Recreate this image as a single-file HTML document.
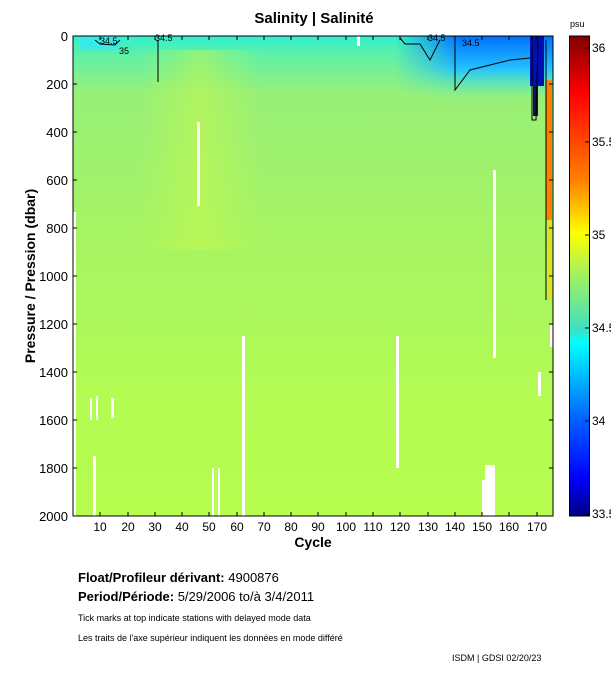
<!DOCTYPE html>
<html><head><meta charset="utf-8"><style>
body{margin:0;background:#fff;width:611px;height:675px;overflow:hidden;font-family:"Liberation Sans",Arial,sans-serif}
</style></head><body>
<svg width="611" height="675" xmlns="http://www.w3.org/2000/svg" font-family="Liberation Sans, Arial, sans-serif">
<defs>
<linearGradient id="bg" x1="0" y1="36" x2="0" y2="516" gradientUnits="userSpaceOnUse">
<stop offset="0" stop-color="#30f0d0"/>
<stop offset="0.04" stop-color="#60f0a8"/>
<stop offset="0.12" stop-color="#98f078"/>
<stop offset="0.4" stop-color="#a6f464"/>
<stop offset="0.6" stop-color="#acf75a"/>
<stop offset="0.75" stop-color="#b4fc52"/>
<stop offset="1" stop-color="#b6fd50"/>
</linearGradient>
<linearGradient id="blu" x1="0" y1="36" x2="0" y2="100" gradientUnits="userSpaceOnUse">
<stop offset="0" stop-color="#0070ff"/>
<stop offset="0.5" stop-color="#20c0ff"/>
<stop offset="1" stop-color="#60f0c0" stop-opacity="0"/>
</linearGradient>
<linearGradient id="bluh" x1="395" y1="0" x2="553" y2="0" gradientUnits="userSpaceOnUse">
<stop offset="0" stop-color="#fff" stop-opacity="0"/>
<stop offset="0.4" stop-color="#fff" stop-opacity="1"/>
<stop offset="1" stop-color="#fff" stop-opacity="1"/>
</linearGradient>
<mask id="m"><rect x="395" y="36" width="158" height="70" fill="url(#bluh)"/></mask>
<linearGradient id="yl" x1="0" y1="0" x2="1" y2="0">
<stop offset="0" stop-color="#c8f848" stop-opacity="0"/>
<stop offset="0.5" stop-color="#c8f848" stop-opacity="0.5"/>
<stop offset="1" stop-color="#c8f848" stop-opacity="0"/>
</linearGradient>
<linearGradient id="cb" x1="0" y1="36" x2="0" y2="516" gradientUnits="userSpaceOnUse">
<stop offset="0" stop-color="#800000"/>
<stop offset="0.12" stop-color="#ff0000"/>
<stop offset="0.3" stop-color="#ff8000"/>
<stop offset="0.41" stop-color="#ffff00"/>
<stop offset="0.5" stop-color="#a0f060"/>
<stop offset="0.61" stop-color="#40e0c0"/>
<stop offset="0.64" stop-color="#00ffff"/>
<stop offset="0.8" stop-color="#0060ff"/>
<stop offset="0.92" stop-color="#0000ff"/>
<stop offset="1" stop-color="#000080"/>
</linearGradient>
</defs>
<text x="314" y="23" font-size="15" font-weight="bold" text-anchor="middle">Salinity | Salinité</text>
<rect x="73" y="36" width="480" height="480" fill="url(#bg)"/>
<rect x="140" y="50" width="120" height="200" fill="url(#yl)"/>
<rect x="395" y="36" width="158" height="70" fill="url(#blu)" mask="url(#m)"/>
<rect x="80" y="36" width="40" height="14" fill="#30e8ff" opacity="0.6"/>
<rect x="530" y="36" width="14" height="50" fill="#0010b0"/>
<rect x="533" y="86" width="5" height="30" fill="#101060"/>
<rect x="546" y="80" width="6" height="140" fill="#ff8000"/>
<rect x="548" y="220" width="4" height="80" fill="#e0e020"/>
<g fill="#fff">
<rect x="357" y="36" width="3" height="10"/>
<rect x="197" y="122" width="3" height="84"/>
<rect x="493" y="170" width="3" height="188"/>
<rect x="242" y="336" width="3" height="180"/>
<rect x="396" y="336" width="3" height="132"/>
<rect x="538" y="372" width="3" height="24"/>
<rect x="550" y="325" width="3" height="22"/>
<rect x="73" y="212" width="3" height="304"/>
<rect x="90" y="398" width="2" height="22"/>
<rect x="96" y="396" width="2" height="24"/>
<rect x="111" y="398" width="3" height="20"/>
<rect x="93" y="456" width="3" height="60"/>
<rect x="212" y="468" width="2" height="48"/>
<rect x="218" y="468" width="2" height="48"/>
<rect x="485" y="465" width="10" height="51"/>
<rect x="482" y="480" width="4" height="36"/>
</g>
<g fill="none" stroke="#000" stroke-width="1">
<path d="M95 40 L100 44 L115 45 L120 40"/>
<path d="M400 38 L405 44 L420 44 L430 60 L440 40"/>
<path d="M455 40 L455 90 L470 70 L490 65 L510 60 L530 58"/>
<path d="M532 36 L532 120 L536 120 L538 40"/>
<path d="M546 40 L546 300"/>
<path d="M158 40 L158 82"/>
</g>
<g font-size="9"><text x="100" y="44">34.5</text><text x="119" y="54">35</text><text x="155" y="41">34.5</text><text x="428" y="41">34.5</text><text x="462" y="46">34.5</text></g>
<rect x="73" y="36" width="480" height="480" fill="none" stroke="#000"/>
<g stroke="#000">
<path d="M100 516v-4M128 516v-4M155 516v-4M182 516v-4M209 516v-4M237 516v-4M264 516v-4M291 516v-4M318 516v-4M346 516v-4M373 516v-4M400 516v-4M428 516v-4M455 516v-4M482 516v-4M509 516v-4M537 516v-4"/>
<path d="M100 36v4M128 36v4M155 36v4M182 36v4M209 36v4M237 36v4M264 36v4M291 36v4M318 36v4M346 36v4M373 36v4M400 36v4M428 36v4M455 36v4M482 36v4M509 36v4M537 36v4"/>
<path d="M73 84h4M73 132h4M73 180h4M73 228h4M73 276h4M73 324h4M73 372h4M73 420h4M73 468h4M553 84h-4M553 132h-4M553 180h-4M553 228h-4M553 276h-4M553 324h-4M553 372h-4M553 420h-4M553 468h-4"/>
</g>
<g font-size="13" text-anchor="end">
<text x="68" y="41">0</text><text x="68" y="89">200</text><text x="68" y="137">400</text><text x="68" y="185">600</text><text x="68" y="233">800</text><text x="68" y="281">1000</text><text x="68" y="329">1200</text><text x="68" y="377">1400</text><text x="68" y="425">1600</text><text x="68" y="473">1800</text><text x="68" y="521">2000</text>
</g>
<g font-size="12" text-anchor="middle">
<text x="100" y="531">10</text><text x="128" y="531">20</text><text x="155" y="531">30</text><text x="182" y="531">40</text><text x="209" y="531">50</text><text x="237" y="531">60</text><text x="264" y="531">70</text><text x="291" y="531">80</text><text x="318" y="531">90</text><text x="346" y="531">100</text><text x="373" y="531">110</text><text x="400" y="531">120</text><text x="428" y="531">130</text><text x="455" y="531">140</text><text x="482" y="531">150</text><text x="509" y="531">160</text><text x="537" y="531">170</text>
</g>
<text x="313" y="547" font-size="14" font-weight="bold" text-anchor="middle">Cycle</text>
<text transform="translate(35 276) rotate(-90)" font-size="14" font-weight="bold" text-anchor="middle">Pressure / Pression (dbar)</text>
<rect x="569.5" y="36" width="20" height="480" fill="url(#cb)" stroke="#000"/>
<g stroke="#000"><path d="M585 48h5M585 142h5M585 235h5M585 328h5M585 421h5M585 514h5"/></g>
<g font-size="12"><text x="592" y="52">36</text><text x="592" y="146">35.5</text><text x="592" y="239">35</text><text x="592" y="332">34.5</text><text x="592" y="425">34</text><text x="592" y="518">33.5</text></g>
<text x="570" y="27" font-size="9">psu</text>
<text x="78" y="582" font-size="13"><tspan font-weight="bold">Float/Profileur dérivant: </tspan>4900876</text>
<text x="78" y="601" font-size="13"><tspan font-weight="bold">Period/Période: </tspan>5/29/2006  to/à  3/4/2011</text>
<text x="78" y="621" font-size="9">Tick marks at top indicate stations with delayed mode data</text>
<text x="78" y="641" font-size="9">Les traits de l'axe supérieur indiquent les données en mode différé</text>
<text x="452" y="661" font-size="9">ISDM | GDSI  02/20/23</text>
</svg>
</body></html>
